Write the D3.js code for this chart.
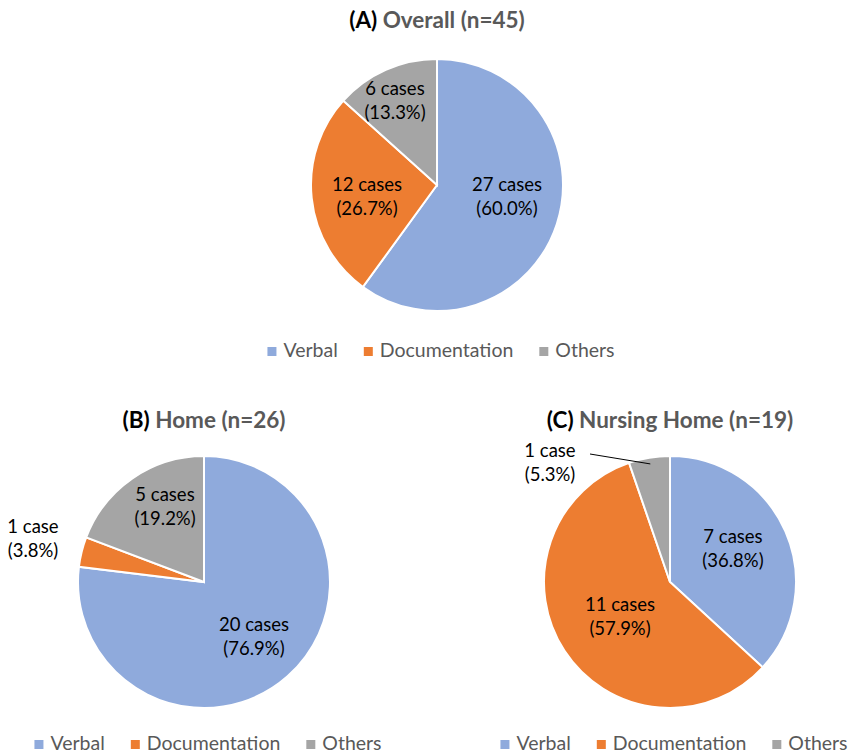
<!DOCTYPE html>
<html lang="en">
<head>
<meta charset="UTF-8">
<script src="https://d3js.org/d3.v7.min.js"></script>
<style>
    body { margin: 0; background: #fff; }
    svg text { font-family: Lato, "Open Sans", sans-serif; }
</style>
</head>
<body>
<div id="chart"></div>
<script>
    // data
    const categories = ["Verbal", "Documentation", "Others"];
    const colors = ["#8faadc", "#ed7d31", "#a5a5a5"];
    const panelTags = ["(A)", "(B)", "(C)"];
    const panelNames = ["Overall (n=45)", "Home (n=26)", "Nursing Home (n=19)"];
    const overallCases = [27, 12, 6];
    const homeCases = [20, 1, 5];
    const nursingCases = [7, 11, 1];
    const overallPct = ["60.0%", "26.7%", "13.3%"];
    const homePct = ["76.9%", "3.8%", "19.2%"];
    const nursingPct = ["36.8%", "57.9%", "5.3%"];

    const W = 849, H = 755, R = 126;

    const svg = d3.select("#chart").append("svg")
        .attr("width", W).attr("height", H);

    // layout per panel; lab = label centre offset from pie centre, leader = draw a line to the slice
    const panels = [
        { cases: overallCases, pct: overallPct, cx: 437, cy: 185, titleY: 28, legY: 351,
          lab: [[70, 12], [-70, 12], [-42, -84]], leader: [false, false, false] },
        { cases: homeCases, pct: homePct, cx: 204, cy: 582, titleY: 428, legY: 744,
          lab: [[50, 55], [-171, -43], [-39, -75]], leader: [false, false, false] },
        { cases: nursingCases, pct: nursingPct, cx: 670, cy: 582, titleY: 428, legY: 744,
          lab: [[63, -33], [-50, 35], [-120, -119]], leader: [false, false, true] }
    ];

    const pie = d3.pie().sort(null).value(d => d);
    const arc = d3.arc().innerRadius(0).outerRadius(R);

    panels.forEach((p, pi) => {
        const g = svg.append("g").attr("transform", `translate(${p.cx},${p.cy})`);
        const arcs = pie(p.cases);

        g.selectAll("path").data(arcs).enter().append("path")
            .attr("d", arc)
            .attr("fill", (d, i) => colors[i])
            .attr("stroke", "#fff").attr("stroke-width", 2);

        arcs.forEach((d, i) => {
            const [x, y] = p.lab[i];
            if (p.leader[i]) {
                const a = (d.startAngle + d.endAngle) / 2, er = R * 0.95;
                g.append("line")
                    .attr("x1", x + 40).attr("y1", y - 9)
                    .attr("x2", Math.sin(a) * er).attr("y2", -Math.cos(a) * er)
                    .attr("stroke", "#000").attr("stroke-width", 1);
            }
            const t = g.append("text")
                .attr("text-anchor", "middle")
                .attr("font-size", 18.5)
                .attr("fill", "#000");
            const word = d.data === 1 ? " case" : " cases";
            t.append("tspan").attr("x", x).attr("y", y - 6).text(d.data + word);
            t.append("tspan").attr("x", x).attr("y", y + 18).text("(" + p.pct[i] + ")");
        });

        // title
        const title = svg.append("text")
            .attr("x", p.cx).attr("y", p.titleY)
            .attr("text-anchor", "middle")
            .attr("font-size", 22.5).attr("font-weight", "bold");
        title.append("tspan").attr("fill", "#000").text(panelTags[pi] + " ");
        title.append("tspan").attr("fill", "#595959").text(panelNames[pi]);

        // legend
        const leg = svg.append("g");
        let xPos = 0;
        categories.forEach((c, i) => {
            const item = leg.append("g").attr("transform", `translate(${xPos},0)`);
            item.append("rect").attr("x", 0).attr("y", -4)
                .attr("width", 9).attr("height", 9).attr("fill", colors[i]);
            const tx = item.append("text").attr("x", 16).attr("y", 6)
                .attr("font-size", 19.5).attr("fill", "#595959").text(c);
            xPos += 16 + tx.node().getComputedTextLength() + 26;
        });
        const legW = xPos - 26;
        leg.attr("transform", `translate(${p.cx - legW / 2 + 4},${p.legY})`);
    });
</script>
</body>
</html>
